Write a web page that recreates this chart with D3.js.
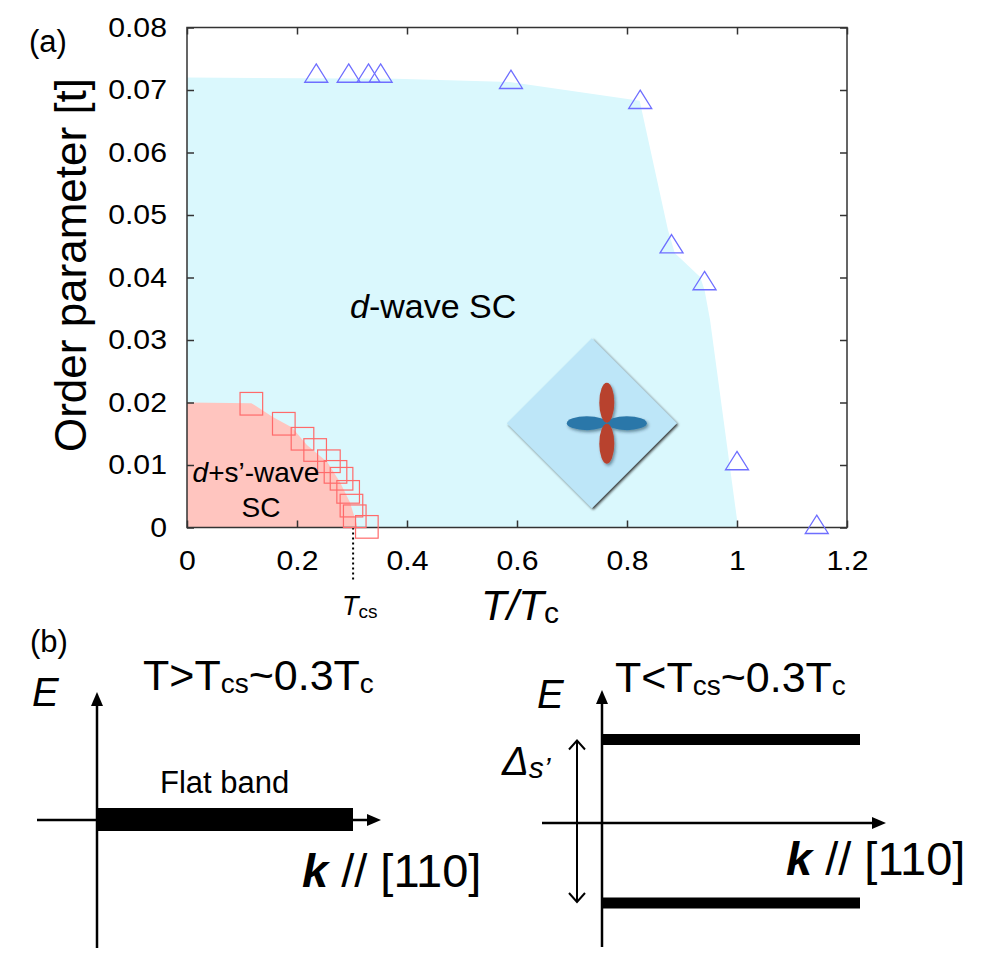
<!DOCTYPE html>
<html>
<head>
<meta charset="utf-8">
<script src="https://cdn.jsdelivr.net/npm/d3@7"></script>
<style>
  body { margin: 0; background: #fff; }
  svg { display: block; font-family: "Liberation Sans", Arial, Helvetica, sans-serif; }
</style>
</head>
<body>
<svg id="fig" width="981" height="964"></svg>
<script>
// ---- panel (a) data: order parameter vs T/Tc ----
const xTicks = [0, 0.2, 0.4, 0.6, 0.8, 1, 1.2]
const yTicks = [0, 0.01, 0.02, 0.03, 0.04, 0.05, 0.06, 0.07, 0.08]

// d-wave points (blue triangles)
const dwaveT = [0.235, 0.294, 0.330, 0.352, 0.589, 0.824, 0.881, 0.941, 1.0, 1.145]
const dwaveOP = [0.0722, 0.0722, 0.0722, 0.0722, 0.0712, 0.0680, 0.0449, 0.0390, 0.0102, 0.0]

// d+s' points (red squares)
const dsT = [0.117, 0.176, 0.210, 0.233, 0.258, 0.270, 0.281, 0.293, 0.299, 0.305, 0.327]
const dsOP = [0.0198, 0.0166, 0.0142, 0.0124, 0.0106, 0.0089, 0.0078, 0.0057, 0.0035, 0.0018, 0.0001]

// shaded phase regions (upper boundary)
const dRegionT = [0, 0.38, 0.587, 0.823, 0.8745, 0.887, 0.933, 0.941, 0.951, 1.002]
const dRegionOP = [0.0720, 0.0718, 0.0713, 0.0683, 0.0476, 0.0439, 0.0401, 0.0380, 0.0332, 0]
const sRegionT = [0, 0.117, 0.156, 0.191, 0.218, 0.255, 0.278, 0.296, 0.309]
const sRegionOP = [0.0200, 0.0199, 0.0177, 0.0160, 0.0132, 0.0105, 0.0073, 0.0041, 0.0004]

const Tcs = 0.302

// ---- panel (b) schematic bands ----
const bandsHigh = [{ k0: 0, k1: 1, E: 0 }]
const bandsLow = [{ k0: 0, k1: 1, E: 0.5 }, { k0: 0, k1: 1, E: -0.5 }]

const svg = d3.select('#fig')
const font = '"Liberation Sans", Arial, Helvetica, sans-serif'

// helper: text made of styled parts
function label (g, x, y, parts, size, opts = {}) {
  const t = g.append('text')
    .attr('x', x).attr('y', y)
    .attr('font-size', size)
    .attr('fill', '#000')
  if (opts.anchor) t.attr('text-anchor', opts.anchor)
  if (opts.transform) t.attr('transform', opts.transform)
  parts.forEach((p) => {
    const s = t.append('tspan').text(p.t)
    if (p.i) s.attr('font-style', 'italic')
    if (p.b) s.attr('font-weight', 'bold')
    if (p.fs) s.attr('font-size', p.fs)
    if (p.dy) s.attr('dy', p.dy)
  })
  return t
}

const defs = svg.append('defs')
defs.append('filter').attr('id', 'shadow').attr('x', '-20%').attr('y', '-20%').attr('width', '140%').attr('height', '140%')
  .append('feDropShadow').attr('dx', 1.5).attr('dy', 1.5).attr('stdDeviation', 1)
  .attr('flood-color', '#222').attr('flood-opacity', 0.85)
defs.append('filter').attr('id', 'soft').attr('x', '-30%').attr('y', '-30%').attr('width', '160%').attr('height', '160%')
  .append('feDropShadow').attr('dx', 1.5).attr('dy', 2).attr('stdDeviation', 1.5)
  .attr('flood-color', '#123').attr('flood-opacity', 0.45)

// ---------- panel (a) ----------
const x = d3.scaleLinear().domain([0, 1.2]).range([187, 847])
const y = d3.scaleLinear().domain([0, 0.08]).range([527.5, 27.5])

const a = svg.append('g')

const area = d3.area().x((d) => x(d[0])).y0(y(0)).y1((d) => y(d[1]))
a.append('path')
  .datum(dRegionT.map((t, i) => [t, dRegionOP[i]]))
  .attr('d', area)
  .attr('fill', '#daf8fd')
a.append('path')
  .datum(sRegionT.map((t, i) => [t, sRegionOP[i]]))
  .attr('d', area)
  .attr('fill', '#ffc5bf')

// inset: d-wave gap symbol on a tilted square
const inset = { t: 0.736, op: 0.0167 }
const cx = x(inset.t); const cy = y(inset.op); const h = 85
const ins = a.append('g')
ins.append('polygon')
  .attr('points', [[cx, cy - h], [cx + h, cy], [cx, cy + h], [cx - h, cy]].map((p) => p.join(',')).join(' '))
  .attr('fill', '#bde6f8')
  .attr('filter', 'url(#shadow)')
const lobes = ins.append('g').attr('filter', 'url(#soft)')
const lx = cx + 15
;[-1, 1].forEach((s) => {
  lobes.append('ellipse').attr('cx', lx + s * 20).attr('cy', cy).attr('rx', 20).attr('ry', 7).attr('fill', '#2b77a9')
})
;[-1, 1].forEach((s) => {
  lobes.append('ellipse').attr('cx', lx).attr('cy', cy + s * 20.5).attr('rx', 7.5).attr('ry', 20).attr('fill', '#b8432d')
})

// Tcs marker
a.append('line')
  .attr('x1', x(Tcs)).attr('x2', x(Tcs))
  .attr('y1', y(0)).attr('y2', y(0) + 52)
  .attr('stroke', '#000').attr('stroke-width', 2).attr('stroke-dasharray', '2,3')

// axes with inward ticks
const axL = d3.axisLeft(y).tickValues(yTicks).tickFormat((d) => d === 0 ? '0' : d3.format('.2f')(d))
  .tickSizeInner(-7).tickSizeOuter(0).tickPadding(20)
const axB = d3.axisBottom(x).tickValues(xTicks).tickFormat((d) => String(+d.toFixed(1)))
  .tickSizeInner(-7).tickSizeOuter(0).tickPadding(23)
const axR = d3.axisRight(y).tickValues(yTicks).tickFormat('').tickSizeInner(-7).tickSizeOuter(0)
const axT = d3.axisTop(x).tickValues(xTicks).tickFormat('').tickSizeInner(-7).tickSizeOuter(0)

function styleAxis (g) {
  g.select('.domain').remove()
  g.selectAll('line').attr('stroke', '#333').attr('stroke-width', 1.5)
  g.selectAll('text').attr('font-family', font).attr('font-size', 27).attr('fill', '#000')
}
const gL = a.append('g').attr('transform', `translate(${x(0)},0)`).call(axL).call(styleAxis)
gL.selectAll('text').attr('x', 0).attr('transform', 'translate(-20,0) scale(1.12,1)')
const gB = a.append('g').attr('transform', `translate(0,${y(0)})`).call(axB).call(styleAxis)
gB.selectAll('text').attr('transform', 'scale(1.12,1)')
a.append('g').attr('transform', `translate(${x(1.2)},0)`).call(axR).call(styleAxis)
a.append('g').attr('transform', `translate(0,${y(0.08)})`).call(axT).call(styleAxis)
a.append('rect')
  .attr('x', x(0)).attr('y', y(0.08))
  .attr('width', x(1.2) - x(0)).attr('height', y(0) - y(0.08))
  .attr('fill', 'none').attr('stroke', '#333').attr('stroke-width', 1.5)

// markers
a.append('g').selectAll('path')
  .data(dwaveT.map((t, i) => [t, dwaveOP[i]]))
  .join('path')
  .attr('transform', (d) => `translate(${x(d[0])},${y(d[1])})`)
  .attr('d', 'M0,-12.3L11.5,6L-11.5,6Z')
  .attr('fill', 'none').attr('stroke', '#6e6eff').attr('stroke-width', 1.3)

a.append('g').selectAll('rect')
  .data(dsT.map((t, i) => [t, dsOP[i]]))
  .join('rect')
  .attr('x', (d) => x(d[0]) - 11.3).attr('y', (d) => y(d[1]) - 11.3)
  .attr('width', 22.6).attr('height', 22.6)
  .attr('fill', 'none').attr('stroke', '#ff6a6a').attr('stroke-width', 1.2)

// panel (a) text
label(a, 29, 52, [{ t: '(a)' }], 31)
label(a, 0, 0, [{ t: 'Order parameter [t]' }], 44, { anchor: 'middle', transform: 'translate(86,265) rotate(-90)' })
label(a, 481, 620, [{ t: 'T/T', i: true }, { t: 'c', fs: 30, dy: 3 }], 42)
label(a, 342, 615, [{ t: 'T', i: true }, { t: 'cs', fs: 19, dy: 3 }], 27)
label(a, 350, 318, [{ t: 'd', i: true }, { t: '-wave SC' }], 34)
label(a, 256, 482, [{ t: 'd', i: true }, { t: '+s\u2019-wave' }], 28, { anchor: 'middle' })
label(a, 261, 517, [{ t: 'SC' }], 28, { anchor: 'middle' })

// ---------- panel (b) ----------
const b = svg.append('g')
label(b, 30, 652, [{ t: '(b)' }], 31)

function arrowHead (g, px, py, dir) {
  // dir: 'up' or 'right', filled
  const p = dir === 'up'
    ? [[px, py], [px - 6, py + 14], [px + 6, py + 14]]
    : [[px, py], [px - 14, py - 6], [px - 14, py + 6]]
  g.append('polygon').attr('points', p.map((q) => q.join(',')).join(' ')).attr('fill', '#000')
}

function bandDiagram (parent, o) {
  const g = parent.append('g')
  const k = d3.scaleLinear().domain([0, 1]).range([o.x0, o.kEnd])
  const e = d3.scaleLinear().domain([-1, 1]).range([o.eBottom, o.eTop])
  // vertical E axis
  g.append('line').attr('x1', o.x0).attr('x2', o.x0).attr('y1', o.yBottom).attr('y2', o.yTip + 10)
    .attr('stroke', '#000').attr('stroke-width', 2.5)
  arrowHead(g, o.x0, o.yTip, 'up')
  // horizontal k axis
  g.append('line').attr('x1', o.xLeft).attr('x2', o.xTip - 10).attr('y1', o.yAxis).attr('y2', o.yAxis)
    .attr('stroke', '#000').attr('stroke-width', 2.5)
  arrowHead(g, o.xTip, o.yAxis, 'right')
  g.selectAll('rect.band')
    .data(o.bands)
    .join('rect')
    .attr('class', 'band')
    .attr('x', (d) => k(d.k0)).attr('width', (d) => k(d.k1) - k(d.k0))
    .attr('y', (d) => e(d.E) - o.bandH / 2).attr('height', o.bandH)
    .attr('fill', '#000')
  return { k, e }
}

bandDiagram(b, {
  x0: 97, kEnd: 353, xLeft: 37, xTip: 381, yAxis: 820, yTip: 692, yBottom: 948,
  eTop: 700, eBottom: 939, bands: bandsHigh, bandH: 23
})
const right = bandDiagram(b, {
  x0: 602, kEnd: 860, xLeft: 542, xTip: 886, yAxis: 823, yTip: 690, yBottom: 947,
  eTop: 657.75, eBottom: 984.75, bands: bandsLow, bandH: 11
})

// gap double arrow (open heads)
const gy0 = right.e(0.5); const gy1 = right.e(-0.5); const gx = 577
b.append('line').attr('x1', gx).attr('x2', gx).attr('y1', gy0 + 1).attr('y2', gy1 - 1)
  .attr('stroke', '#000').attr('stroke-width', 2)
b.append('path')
  .attr('d', `M${gx - 8},${gy0 + 10}L${gx},${gy0 + 1}L${gx + 8},${gy0 + 10}M${gx - 8},${gy1 - 10}L${gx},${gy1 - 1}L${gx + 8},${gy1 - 10}`)
  .attr('fill', 'none').attr('stroke', '#000').attr('stroke-width', 2)

// panel (b) text
label(b, 143, 690, [{ t: 'T>T' }, { t: 'cs', fs: 28, dy: 3 }, { t: '~0.3T', dy: -3 }, { t: 'c', fs: 28, dy: 3 }], 43)
label(b, 615, 692, [{ t: 'T<T' }, { t: 'cs', fs: 28, dy: 3 }, { t: '~0.3T', dy: -3 }, { t: 'c', fs: 28, dy: 3 }], 43)
label(b, 32, 706, [{ t: 'E', i: true }], 40)
label(b, 537, 708, [{ t: 'E', i: true }], 40)
label(b, 160, 793, [{ t: 'Flat band' }], 31)
label(b, 302, 887, [{ t: 'k', i: true, b: true }, { t: ' // [110]' }], 47)
label(b, 786, 875, [{ t: 'k', i: true, b: true }, { t: ' // [110]' }], 47)
label(b, 502, 775, [{ t: '\u0394', i: true }, { t: 's\u2019', i: true, fs: 30, dy: 3 }], 40)
</script>
</body>
</html>
